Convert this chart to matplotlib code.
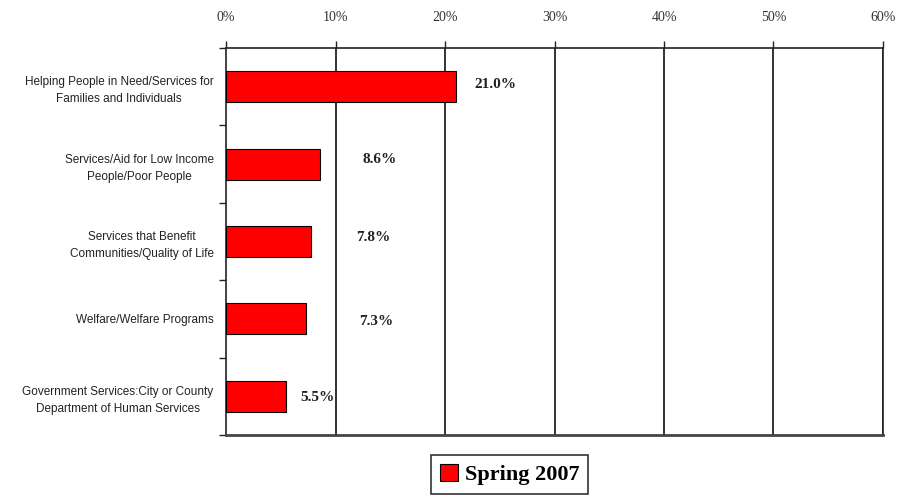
import matplotlib
matplotlib.use("Agg")
import matplotlib.pyplot as plt
import numpy as np

# Data
categories = [
    "Helping People in Need/Services for\nFamilies and Individuals",
    "Services/Aid for Low Income\nPeople/Poor People",
    "Services that Benefit\nCommunities/Quality of Life",
    "Welfare/Welfare Programs",
    "Government Services:City or County\nDepartment of Human Services",
]
values = [21.0, 8.6, 7.8, 7.3, 5.5]
value_labels = ["21.0%", "8.6%", "7.8%", "7.3%", "5.5%"]
x_ticks = [0, 10, 20, 30, 40, 50, 60]
series_name = "Spring 2007"

# label placement quirks of the original (offset from bar end, in % units / rows)
label_dx = [1.7, 3.9, 4.1, 4.9, 1.3]
label_dy = [-0.03, -0.06, -0.05, 0.03, 0.02]

fig = plt.figure(figsize=(8.99, 4.96), dpi=100)
ax = fig.add_axes([0.2514, 0.123, 0.7308, 0.7802])

y = np.arange(len(categories))
ax.barh(y, values, height=0.4, color="#ff0000", edgecolor="black", linewidth=0.8, zorder=3,
        label=series_name)

for i, (v, lab) in enumerate(zip(values, value_labels)):
    ax.text(v + label_dx[i], y[i] + label_dy[i], lab, fontsize=11, fontweight="bold",
            family="Liberation Serif", ha="left", va="center", color="#222222")

ax.set_xlim(0, 60)
ax.set_ylim(len(categories) - 0.5, -0.5)

# vertical gridlines
for xt in x_ticks[1:]:
    ax.axvline(xt, color="#222222", linewidth=1.3, zorder=2)

ax.xaxis.tick_top()
ax.set_xticks(x_ticks)
ax.set_xticklabels([f"{t}%" for t in x_ticks], family="Liberation Serif", fontsize=10,
                   color="#333333")
ax.tick_params(axis="x", direction="out", length=5, width=1, pad=12, color="#222222")

# y ticks at category boundaries, labels at centres
ax.set_yticks(np.arange(len(categories) + 1) - 0.5)
ax.set_yticklabels([])
ax.tick_params(axis="y", which="major", direction="out", length=5, width=1, color="#222222")
ax.set_yticks(y, minor=True)
ax.set_yticklabels(categories, minor=True, family="Liberation Sans", fontsize=8.5,
                   multialignment="center", linespacing=1.55, color="#222222")
ax.tick_params(axis="y", which="minor", length=0, pad=9)

for side in ["top", "left", "right"]:
    ax.spines[side].set_linewidth(1.2)
    ax.spines[side].set_color("#222222")
ax.spines["bottom"].set_linewidth(2)
ax.spines["bottom"].set_color("#444444")

leg = fig.legend(loc="upper center", bbox_to_anchor=(0.567, 0.083), frameon=True,
                 fancybox=False, edgecolor="black", handlelength=0.8, handleheight=0.8,
                 handletextpad=0.3, borderpad=0.4, borderaxespad=0,
                 prop={"family": "Liberation Serif", "weight": "bold", "size": 16})
leg.get_frame().set_linewidth(1.2)

fig.savefig("out.png", dpi=100, facecolor="white")
